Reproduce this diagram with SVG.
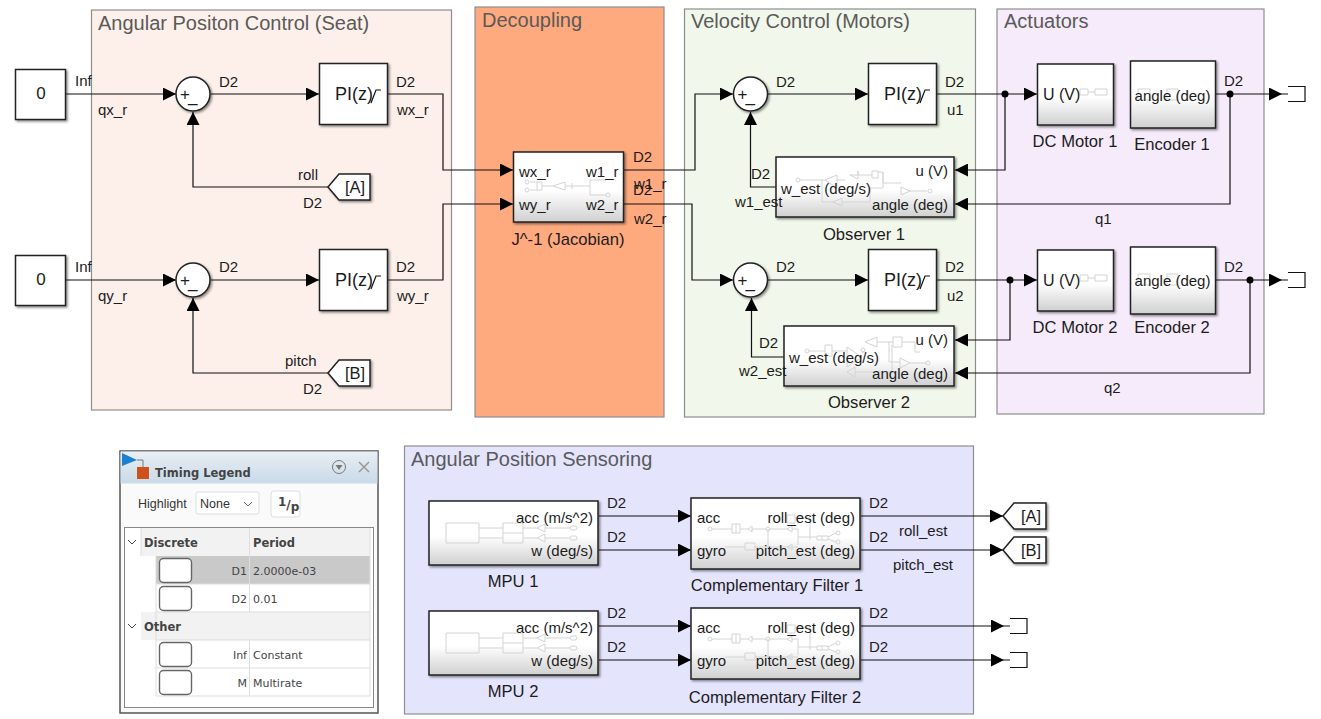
<svg xmlns="http://www.w3.org/2000/svg" width="1321" height="719" viewBox="0 0 1321 719">
<style>
text{font-family:"Liberation Sans",Arial,sans-serif;font-size:15px;fill:#1c1c1c}
.t{font-size:20px;fill:#5a5a5a}
.m{text-anchor:middle}
.e{text-anchor:end}
.n{font-size:16.600px}
.l{font-size:17px}
.pi{font-size:18px}
.area{stroke:#8e8e8e;stroke-width:1.2}
.b{fill:#fff;stroke:#222;stroke-width:1.5;filter:url(#sh)}
.g{fill:url(#gr);stroke:#222;stroke-width:1.5;filter:url(#sh)}
.w{fill:none;stroke:#111;stroke-width:1.2}
.in{fill:none;stroke:#d4d4d4;stroke-width:1}
.lg{font-family:"DejaVu Sans",sans-serif;font-size:11px;fill:#444}
.lb{font-family:"DejaVu Sans",sans-serif;font-size:11.500px;font-weight:bold;fill:#444}
.ls{font-family:"Liberation Sans",sans-serif;font-size:12.500px;fill:#333}
.sw{fill:#fff;stroke:#666;stroke-width:1.400}
.gh{fill:#f2f2f2}
.gl{stroke:#ddd;stroke-width:1;fill:none}
</style>
<defs>
<linearGradient id="gr" x1="0" y1="0" x2="0" y2="1"><stop offset="0" stop-color="#fff"/><stop offset="0.55" stop-color="#fff"/><stop offset="1" stop-color="#d0d0d0"/></linearGradient>
<linearGradient id="hd" x1="0" y1="0" x2="0" y2="1"><stop offset="0" stop-color="#e8eef4"/><stop offset="1" stop-color="#c9dae8"/></linearGradient>
<filter id="sh" x="-10%" y="-10%" width="125%" height="125%"><feDropShadow dx="1.500" dy="1.500" stdDeviation="1.200" flood-color="#000" flood-opacity="0.45"/></filter>
<marker id="a" markerWidth="13" markerHeight="13" refX="13" refY="6.500" orient="auto" markerUnits="userSpaceOnUse"><path d="M0 0L13 6.500L0 13Z" fill="#000"/></marker>
<g id="term"><path class="w" d="M0 0H6M6 -7.500H23V7.500H6"/></g>
<g id="mpuin"><path class="in" d="M446 523H479V543H446ZM479 528H503M479 538H503M503 523H523V543H503ZM503 533H523M523 528H537L545 524V532L537 528M523 538H537L545 534V542L537 538M545 528H570M545 538H570"/><rect class="in" x="570" y="526" width="7" height="4" rx="2"/><rect class="in" x="570" y="536" width="7" height="4" rx="2"/></g>
<g id="filin"><path class="in" d="M712 529H732M732 524H740V533H732ZM736 524V533M740 529H748L752 526V532L748 529M752 529H766M770 529H787L792 526V532L787 529M792 529H798V545M798 537H817M725 547H745M745 543H755V550H745ZM755 547H787L792 544V550L787 547H798M768 529V547M787 515H795V523H787ZM795 518H810V540M817 536H828V540H817ZM822 536V540M828 537L836 533M828 539L836 542"/><circle class="in" cx="710" cy="529" r="2"/><circle class="in" cx="768" cy="529" r="2"/><circle class="in" cx="838" cy="533" r="2"/><circle class="in" cx="838" cy="542" r="2"/></g>
</defs>

<g id="area-seat"><rect class="area" x="91.500" y="10" width="360" height="400" fill="#fdf0eb"/><text class="t" x="98" y="30">Angular Positon Control (Seat)</text></g>
<g id="area-decoupling"><rect class="area" x="475" y="7" width="189" height="410" fill="#ffa97e"/><text class="t" x="482" y="27">Decoupling</text></g>
<g id="area-velocity"><rect class="area" x="684.500" y="9" width="291" height="408" fill="#f1f7ea"/><text class="t" x="691" y="28">Velocity Control (Motors)</text></g>
<g id="area-actuators"><rect class="area" x="997" y="9" width="267" height="405" fill="#f5ebfa"/><text class="t" x="1004" y="28">Actuators</text></g>
<g id="area-sensing"><rect class="area" x="404.500" y="446" width="569" height="268" fill="#e4e4fc"/><text class="t" x="411" y="466">Angular Position Sensoring</text></g>

<g id="connectors">
<path class="w" marker-end="url(#a)" d="M66 94H176"/>
<path class="w" marker-end="url(#a)" d="M211 94H319"/>
<path class="w" marker-end="url(#a)" d="M328 187H193V112"/>
<path class="w" marker-end="url(#a)" d="M388 94H443V170H513"/>
<path class="w" marker-end="url(#a)" d="M66 280H176"/>
<path class="w" marker-end="url(#a)" d="M211 280H319"/>
<path class="w" marker-end="url(#a)" d="M328 373H193V298"/>
<path class="w" marker-end="url(#a)" d="M388 280H443V204H513"/>
<path class="w" marker-end="url(#a)" d="M624 170H695V94H733"/>
<path class="w" marker-end="url(#a)" d="M624 204H692V280H733"/>
<path class="w" marker-end="url(#a)" d="M768 94H868"/>
<path class="w" marker-end="url(#a)" d="M768 280H868"/>
<path class="w" marker-end="url(#a)" d="M776 187H750.500V112"/>
<path class="w" marker-end="url(#a)" d="M784 357H751.500V298"/>
<path class="w" marker-end="url(#a)" d="M937 94H1037"/>
<path class="w" marker-end="url(#a)" d="M937 280H1037"/>
<path class="w" marker-end="url(#a)" d="M1005 94V170H955"/>
<path class="w" marker-end="url(#a)" d="M1010 280V340H955"/>
<path class="w" marker-end="url(#a)" d="M1216 94H1282"/>
<path class="w" marker-end="url(#a)" d="M1216 280H1282"/>
<path class="w" marker-end="url(#a)" d="M1230 94V204H955"/>
<path class="w" marker-end="url(#a)" d="M1250 280V373H955"/>
<circle cx="1005" cy="94" r="3.500"/><circle cx="1230" cy="94" r="3.500"/><circle cx="1010" cy="280" r="3.500"/><circle cx="1250" cy="280" r="3.500"/>
<path class="w" marker-end="url(#a)" d="M599 516H691"/>
<path class="w" marker-end="url(#a)" d="M599 550H691"/>
<path class="w" marker-end="url(#a)" d="M599 626H691"/>
<path class="w" marker-end="url(#a)" d="M599 660H691"/>
<path class="w" marker-end="url(#a)" d="M861 516H1003"/>
<path class="w" marker-end="url(#a)" d="M861 550H1003"/>
<path class="w" marker-end="url(#a)" d="M861 626H1004"/>
<path class="w" marker-end="url(#a)" d="M861 660H1004"/>
</g>

<g id="const-x"><rect class="b" x="15.500" y="69.500" width="50" height="50"/><text class="m l" x="41" y="99">0</text></g>
<g id="const-y"><rect class="b" x="15.500" y="255.500" width="50" height="50"/><text class="m l" x="41" y="285">0</text></g>

<g id="sum-x"><circle class="b" cx="193" cy="94" r="17"/><text x="180" y="100" class="l">+</text><text x="188" y="102" class="l">_</text></g>
<g id="sum-y"><circle class="b" cx="193" cy="280" r="17"/><text x="180" y="286" class="l">+</text><text x="188" y="288" class="l">_</text></g>
<g id="sum-1"><circle class="b" cx="750.500" cy="94" r="17"/><text x="737.500" y="100" class="l">+</text><text x="745.500" y="102" class="l">_</text></g>
<g id="sum-2"><circle class="b" cx="750.500" cy="280" r="17"/><text x="737.500" y="286" class="l">+</text><text x="745.500" y="288" class="l">_</text></g>

<g id="pi-x"><rect class="b" x="319.500" y="63.500" width="68" height="61"/><text class="pi" x="335" y="100">PI(z)</text><path class="w" d="M371 103L376 90H381"/></g>
<g id="pi-y"><rect class="b" x="319.500" y="249.500" width="68" height="61"/><text class="pi" x="335" y="286">PI(z)</text><path class="w" d="M371 289L376 276H381"/></g>
<g id="pi-1"><rect class="b" x="868.500" y="63.500" width="68" height="61"/><text class="pi" x="884" y="100">PI(z)</text><path class="w" d="M920 103L925 90H930"/></g>
<g id="pi-2"><rect class="b" x="868.500" y="249.500" width="68" height="61"/><text class="pi" x="884" y="286">PI(z)</text><path class="w" d="M920 289L925 276H930"/></g>

<g id="from-a"><path class="b" d="M328 187L339 174H370V200H339Z"/><text class="m" style="font-size:16.500px" x="355" y="193">[A]</text></g>
<g id="from-b"><path class="b" d="M328 373L339 360H370V386H339Z"/><text class="m" style="font-size:16.500px" x="355" y="379">[B]</text></g>

<g id="jacobian"><rect class="g" x="513.500" y="152" width="110" height="70"/><path class="in" d="M530 182H537M530 190H537M537 182H542V190H537ZM542 186H553L565 182V190L553 186M565 186H572M572 183V189M572 186H590M590 180V195M590 180H606M590 195H606"/><circle class="in" cx="527" cy="182" r="2"/><circle class="in" cx="527" cy="190" r="2"/><circle class="in" cx="608" cy="195" r="2"/><text x="519" y="177">wx_r</text><text x="586" y="177">w1_r</text><text x="519" y="210">wy_r</text><text x="586" y="210">w2_r</text><text class="m n" x="568" y="245">J^-1 (Jacobian)</text></g>

<g id="observer-1"><rect class="g" x="776" y="157" width="178" height="60"/><path class="in" d="M800 180H825L837 175V188L825 180M837 180H845M850 175H858L858 171V179ZM858 175H872M872 171H878V178H872ZM878 172H883V183H901M901 187L910 191L901 195ZM910 191H927M883 172V188H870V202H842M842 198V206L833 202ZM833 202H822V180"/><circle class="in" cx="798" cy="180" r="2"/><circle class="in" cx="930" cy="191" r="2"/><text x="781" y="194">w_est (deg/s)</text><text class="e" x="948" y="176">u  (V)</text><text class="e" x="948" y="210">angle (deg)</text><text class="m n" x="864" y="240">Observer 1</text></g>
<g id="observer-2"><rect class="g" x="784" y="326" width="170" height="60"/><path class="in" d="M809 351H825M825 345H832V356H825ZM832 351H847M847 347L862 357L847 367ZM862 352H865M865 342L877 337V347ZM877 342H893M893 337H902V347H893ZM902 342H915V352H920M889 342V362H900M900 358L910 363L900 368ZM910 363H926M892 345V372H855M855 367V377L847 372Z"/><circle class="in" cx="807" cy="351" r="2"/><circle class="in" cx="863" cy="350" r="2"/><circle class="in" cx="928" cy="363" r="2"/><text x="789" y="363">w_est (deg/s)</text><text class="e" x="948" y="345">u (V)</text><text class="e" x="948" y="379">angle (deg)</text><text class="m n" x="869" y="408">Observer 2</text></g>

<g id="motor-1"><rect class="g" x="1037.500" y="64" width="76" height="61"/><path class="in" d="M1078 92H1080M1080 89H1088V95H1080ZM1088 92H1095M1095 89H1107V95H1095Z"/><text x="1043" y="100" style="font-size:16px">U (V)</text><text class="m n" x="1075" y="147">DC Motor 1</text></g>
<g id="encoder-1"><rect class="g" x="1130.500" y="61" width="85" height="67"/><rect class="in" x="1138" y="89" width="12" height="11"/><rect class="in" x="1167" y="89" width="11" height="11"/><text class="m" x="1172.500" y="101">angle (deg)</text><text class="m n" x="1172" y="150">Encoder 1</text></g>
<g id="motor-2"><rect class="g" x="1037.500" y="250" width="76" height="61"/><path class="in" d="M1078 278H1080M1080 275H1088V281H1080ZM1088 278H1095M1095 275H1107V281H1095Z"/><text x="1043" y="286" style="font-size:16px">U (V)</text><text class="m n" x="1075" y="333">DC Motor 2</text></g>
<g id="encoder-2"><rect class="g" x="1130.500" y="247" width="85" height="67"/><rect class="in" x="1138" y="274" width="12" height="11"/><rect class="in" x="1167" y="274" width="11" height="11"/><text class="m" x="1172.500" y="286">angle (deg)</text><text class="m n" x="1172" y="333">Encoder 2</text></g>

<use id="term-1" href="#term" x="1282" y="94"/>
<use id="term-2" href="#term" x="1282" y="280"/>
<use id="term-3" href="#term" x="1004" y="626"/>
<use id="term-4" href="#term" x="1004" y="660"/>

<g id="mpu-1"><rect class="g" x="429" y="501" width="169" height="64"/><use href="#mpuin"/><text class="e" x="593" y="523">acc (m/s^2)</text><text class="e" x="593" y="556">w (deg/s)</text><text class="m n" x="513" y="587">MPU 1</text></g>
<g id="mpu-2"><rect class="g" x="429" y="611" width="169" height="64"/><use href="#mpuin" y="110"/><text class="e" x="593" y="633">acc (m/s^2)</text><text class="e" x="593" y="666">w (deg/s)</text><text class="m n" x="513" y="697">MPU 2</text></g>
<g id="filter-1"><rect class="g" x="691" y="498" width="169" height="71"/><use href="#filin"/><text x="697" y="523">acc</text><text x="697" y="556">gyro</text><text class="e" x="855" y="523">roll_est (deg)</text><text class="e" x="855" y="556">pitch_est (deg)</text><text class="m n" x="777" y="591">Complementary Filter 1</text></g>
<g id="filter-2"><rect class="g" x="691" y="608" width="169" height="71"/><use href="#filin" y="110"/><text x="697" y="633">acc</text><text x="697" y="666">gyro</text><text class="e" x="855" y="633">roll_est (deg)</text><text class="e" x="855" y="666">pitch_est (deg)</text><text class="m n" x="775" y="703">Complementary Filter 2</text></g>

<g id="goto-a"><path class="b" d="M1003 516L1014 503H1046V529H1014Z"/><text class="m" style="font-size:16.500px" x="1031" y="522">[A]</text></g>
<g id="goto-b"><path class="b" d="M1003 550L1014 537H1046V563H1014Z"/><text class="m" style="font-size:16.500px" x="1031" y="556">[B]</text></g>

<g id="labels">
<text x="75" y="86">Inf</text><text x="98" y="115">qx_r</text><text x="219" y="87">D2</text><text x="396" y="87">D2</text><text x="397" y="115">wx_r</text><text x="298" y="180">roll</text><text x="303" y="208">D2</text>
<text x="75" y="272">Inf</text><text x="98" y="301">qy_r</text><text x="219" y="272">D2</text><text x="396" y="272">D2</text><text x="397" y="301">wy_r</text><text x="285" y="366">pitch</text><text x="303" y="394">D2</text>
<text x="633" y="162">D2</text><text x="634" y="189">w1_r</text><text x="633" y="195">D2</text><text x="634" y="224">w2_r</text>
<text x="776" y="87">D2</text><text x="776" y="272">D2</text><text x="751" y="179">D2</text><text x="735" y="207">w1_est</text><text x="759" y="348">D2</text><text x="739" y="376">w2_est</text>
<text x="945" y="87">D2</text><text x="947" y="115">u1</text><text x="945" y="272">D2</text><text x="947" y="301">u2</text>
<text x="1224" y="86">D2</text><text x="1095" y="224">q1</text><text x="1224" y="272">D2</text><text x="1104" y="393">q2</text>
<text x="607" y="508">D2</text><text x="607" y="542">D2</text><text x="607" y="618">D2</text><text x="607" y="652">D2</text>
<text x="869" y="508">D2</text><text x="869" y="542">D2</text><text x="899" y="536">roll_est</text><text x="893" y="570">pitch_est</text><text x="869" y="618">D2</text><text x="869" y="652">D2</text>
</g>

<g id="timing-legend">
<rect x="120" y="451" width="258" height="262" fill="#fafafa" stroke="#555" stroke-width="1.500"/>
<rect x="120.500" y="451.500" width="257" height="32" fill="url(#hd)"/>
<path d="M122 453L137 460L122 466Z" fill="#1d7fd0"/><path d="M137 460H143V467" fill="none" stroke="#777"/><rect x="137" y="467" width="12" height="12" fill="#d0501c"/>
<text x="155" y="477" class="lb">Timing Legend</text>
<circle cx="339" cy="467" r="6.500" fill="none" stroke="#777"/><path d="M335.500 465H342.500L339 470Z" fill="#777"/>
<path d="M359 462L369 472M369 462L359 472" stroke="#999" stroke-width="1.500"/>
<text x="138" y="508" class="ls">Highlight</text>
<rect x="196" y="492" width="63" height="22" rx="2" fill="#fff" stroke="#ddd"/><text x="200" y="508" class="ls">None</text><path d="M244 502L248 506L252 502" fill="none" stroke="#666"/>
<rect x="271" y="491" width="29" height="26" rx="3" fill="#fff" stroke="#ddd"/><text x="278" y="509" class="lb" style="font-size:12px"><tspan dy="-3">1</tspan><tspan dy="3">/</tspan><tspan dy="2">p</tspan></text>
<rect x="124.500" y="527.500" width="249" height="180" fill="#fff" stroke="#888"/>
<rect x="141" y="528" width="229" height="28" class="gh"/>
<rect x="156" y="556" width="214" height="28" fill="#c9c9c9"/>
<rect x="141" y="612" width="229" height="28" class="gh"/>
<path class="gl" d="M249.500 528V612M249.500 640V696M156 584H370M156 612H370M156 640H370M156 668H370M156 696H370M156 556V696M141 528V556M370 528V696"/>
<path d="M128 540L132 544L136 540M128 624L132 628L136 624" fill="none" stroke="#444"/>
<text x="144" y="547" class="lb">Discrete</text><text x="253" y="547" class="lb">Period</text>
<rect x="159.500" y="558.500" width="32" height="24" rx="4" class="sw"/><text class="lg e" x="247" y="575">D1</text><text class="lg" x="253" y="575">2.0000e-03</text>
<rect x="159.500" y="586.500" width="32" height="24" rx="4" class="sw"/><text class="lg e" x="247" y="603">D2</text><text class="lg" x="253" y="603">0.01</text>
<text x="144" y="631" class="lb">Other</text>
<rect x="159.500" y="642.500" width="32" height="24" rx="4" class="sw"/><text class="lg e" x="247" y="659">Inf</text><text class="lg" x="253" y="659">Constant</text>
<rect x="159.500" y="670.500" width="32" height="24" rx="4" class="sw"/><text class="lg e" x="247" y="687">M</text><text class="lg" x="253" y="687">Multirate</text>
</g>
</svg>
